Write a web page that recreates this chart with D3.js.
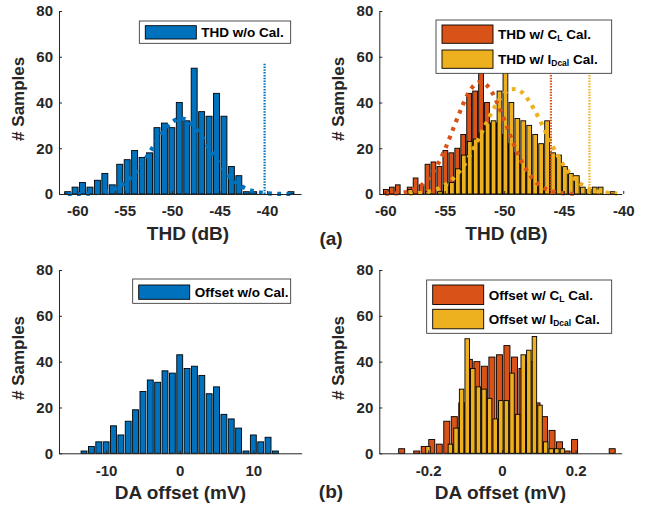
<!DOCTYPE html>
<html>
<head>
<meta charset="utf-8">
<script src="https://cdn.jsdelivr.net/npm/d3@7"></script>
<style>
body { margin: 0; background: #fff; }
svg { display: block; font-family: "Liberation Sans", Arial, sans-serif; font-weight: bold; }
</style>
</head>
<body>
<svg id="chart" width="657" height="508"></svg>
<script>
// ---- values ----
var countTicks = [0, 20, 40, 60, 80];
var thdTicks = [-60, -55, -50, -45, -40];
var offsetRawTicks = [-10, 0, 10];
var offsetCalTicks = [-0.2, 0, 0.2];

// (a) left: THD without calibration
var thdRawStart = -61.02, thdRawWidth = 0.785;
var thdRawCounts = [1, 3, 5, 3, 6, 9, 4, 13, 15, 19, 16, 18, 29, 31, 29, 40, 32, 55, 36, 34, 44, 34, 12, 8, 1, 1, 0, 0, 0, 0, 1];
var thdRawFitX = [-61, -60, -59, -58, -57, -56, -55, -54, -53, -52, -51, -50, -49, -48, -47, -46, -45, -44, -43, -42, -41, -40, -39, -38, -37];
var thdRawFitY = [0, 0, 0.1, 0.4, 1.0, 2.3, 4.8, 8.7, 14.2, 20.7, 27.0, 31.5, 33.0, 30.9, 25.8, 19.3, 13.0, 7.8, 4.2, 2.0, 0.9, 0.3, 0.1, 0, 0];
var thdRawLimit = -40.25, thdRawLimitTop = 57;

// (a) right: THD with C_L and I_Dcal calibration
var thdClStart = -59.95, thdClWidth = 0.5;
var thdClCounts = [2, 3, 4, 0, 3, 7, 4, 13, 14, 12, 19, 18, 20, 26, 44, 45, 60, 40, 31, 31, 26, 22, 18, 14, 10, 7, 4, 2, 1];
var thdIdStart = -57.9, thdIdWidth = 0.5;
var thdIdCounts = [2, 0, 0, 1, 0, 1, 4, 5, 11, 17, 23, 24, 27, 31, 32, 45, 56, 40, 33, 32, 30, 26, 22, 32, 18, 17, 12, 9, 8, 3, 2, 3, 3, 0, 1];
var thdClFitX = [-60, -59.5, -59, -58.5, -58, -57.5, -57, -56.5, -56, -55.5, -55, -54.5, -54, -53.5, -53, -52.5, -52, -51.5, -51, -50.5, -50, -49.5, -49, -48.5, -48, -47.5, -47, -46.5, -46, -45.5, -45, -44.5, -44];
var thdClFitY = [0.1, 0.1, 0.3, 0.6, 1.2, 2.2, 3.7, 6.0, 9.4, 13.8, 19.3, 25.7, 32.4, 38.8, 44.2, 47.7, 49.0, 47.7, 44.2, 38.8, 32.4, 25.7, 19.3, 13.8, 9.4, 6.0, 3.7, 2.2, 1.2, 0.6, 0.3, 0.1, 0.1];
var thdIdFitX = [-58, -57.5, -57, -56.5, -56, -55.5, -55, -54.5, -54, -53.5, -53, -52.5, -52, -51.5, -51, -50.5, -50, -49.5, -49, -48.5, -48, -47.5, -47, -46.5, -46, -45.5, -45, -44.5, -44, -43.5, -43, -42.5, -42, -41.5, -41, -40.5];
var thdIdFitY = [0.15, 0.28, 0.5, 0.9, 1.5, 2.4, 3.8, 5.7, 8.4, 11.7, 15.8, 20.6, 25.8, 31.1, 36.2, 40.6, 43.9, 45.7, 45.9, 44.4, 41.3, 37.1, 32.2, 26.8, 21.6, 16.7, 12.5, 9.0, 6.2, 4.2, 2.7, 1.7, 1.0, 0.6, 0.3, 0.2];
var thdClLimit = -46.08, thdIdLimit = -42.84, thdCalLimitTop = 60;

// (b) left: DA offset without calibration (mV)
var offRawStart = -15, offRawWidth = 1;
var offRawCounts = [0, 0, 1, 3, 5, 5, 12, 8, 14, 19, 27, 32, 31, 36, 35, 43, 37, 38, 34, 26, 29, 17, 15, 11, 1, 8, 5, 7, 1, 0, 0];

// (b) right: DA offset with C_L and I_Dcal calibration (mV)
var offClStart = -0.272, offClWidth = 0.0204;
var offClCounts = [2, 0, 1, 3, 6, 4, 14, 16, 22, 41, 40, 38, 42, 43, 47, 42, 37, 40, 22, 16, 10, 5, 1, 6, 0, 0, 0, 0, 2];
var offIdStart = -0.2006, offIdWidth = 0.0152;
var offIdCounts = [3, 0, 0, 0, 4, 11, 28, 50, 37, 29, 28, 24, 15, 23, 23, 35, 17, 43, 45, 51, 21, 5, 2, 2, 2];

// ---- drawing ----
var INK = '#262626';
var BLUE = '#0072BD', ORANGE = '#D95319', YELLOW = '#EDB120';
var svg = d3.select('#chart');

function makePanel(box, xDomain) {
    var g = svg.append('g').attr('transform', 'translate(' + box.x + ',' + box.y + ')');
    return {
        g: g,
        box: box,
        x: d3.scaleLinear().domain(xDomain).range([0, box.w]),
        y: d3.scaleLinear().domain([0, 80]).range([box.h, 0])
    };
}

function drawBars(p, start, width, counts, fill) {
    var half = 0.4 * width;
    p.g.append('g').selectAll('rect')
        .data(counts)
        .enter().append('rect')
        .attr('x', function(d, i) { return p.x(start + i * width - half); })
        .attr('width', function(d, i) { return p.x(start + i * width + half) - p.x(start + i * width - half); })
        .attr('y', function(d) { return p.y(d); })
        .attr('height', function(d) { return p.y(0) - p.y(d); })
        .attr('fill', fill)
        .attr('stroke', '#000')
        .attr('stroke-width', 0.9);
}

function drawFit(p, xs, ys, color) {
    var line = d3.line()
        .x(function(d) { return p.x(d[0]); })
        .y(function(d) { return p.y(d[1]); })
        .curve(d3.curveMonotoneX);
    p.g.append('path')
        .datum(d3.zip(xs, ys))
        .attr('d', line)
        .attr('fill', 'none')
        .attr('stroke', color)
        .attr('stroke-width', 4.2)
        .attr('stroke-dasharray', '3.8 5.4');
}

function drawLimit(p, xv, top, color) {
    p.g.append('line')
        .attr('x1', p.x(xv)).attr('x2', p.x(xv))
        .attr('y1', p.y(0)).attr('y2', p.y(top))
        .attr('stroke', color)
        .attr('stroke-width', 2.2)
        .attr('stroke-dasharray', '1.5 1.3');
}

function drawAxes(p, xTicks, xLabel, yLabelX) {
    var fmt = function(d) { return String(d); };
    var ax = p.g.append('g')
        .attr('transform', 'translate(0,' + p.box.h + ')')
        .call(d3.axisBottom(p.x).tickValues(xTicks).tickFormat(fmt).tickSize(-3).tickSizeOuter(0).tickPadding(8));
    var ay = p.g.append('g')
        .call(d3.axisLeft(p.y).tickValues(countTicks).tickFormat(fmt).tickSize(-3).tickSizeOuter(0).tickPadding(6));
    [ax, ay].forEach(function(a) {
        a.select('.domain').attr('stroke', INK).attr('stroke-width', 1);
        a.selectAll('.tick line').attr('stroke', INK);
        a.selectAll('.tick text')
            .attr('fill', INK)
            .style('font-family', '"Liberation Sans", Arial, sans-serif')
            .style('font-weight', 'bold')
            .style('font-size', '15px');
    });
    ax.selectAll('.tick text').attr('dy', '0.95em');

    p.g.append('text')
        .attr('x', p.box.w / 2 + (xLabel.dx || 0))
        .attr('y', p.box.h + 46)
        .attr('text-anchor', 'middle')
        .attr('fill', INK)
        .style('font-size', '19px')
        .text(xLabel.text);

    p.g.append('text')
        .attr('transform', 'translate(' + yLabelX + ',' + (p.box.h * 0.48) + ') rotate(-90)')
        .attr('text-anchor', 'middle')
        .attr('fill', INK)
        .style('font-size', '17px')
        .text('# Samples');
}

// entries: [fill, [[text, isSub], ...]]
function drawLegend(lg, entries) {
    var g = svg.append('g');
    g.append('rect')
        .attr('x', lg.x).attr('y', lg.y).attr('width', lg.w).attr('height', lg.h)
        .attr('fill', '#fff')
        .attr('stroke', INK)
        .attr('stroke-width', 0.8);
    entries.forEach(function(e, i) {
        var top = lg.y + lg.padTop + i * lg.step;
        g.append('rect')
            .attr('x', lg.x + 6).attr('y', top)
            .attr('width', 51).attr('height', lg.patchH)
            .attr('fill', e[0])
            .attr('stroke', '#000')
            .attr('stroke-width', 0.9);
        var t = g.append('text')
            .attr('x', lg.x + 62)
            .attr('y', top + lg.patchH / 2 + 4.8)
            .attr('fill', '#000');
        var shifted = false;
        e[1].forEach(function(part) {
            var ts = t.append('tspan').text(part[0]);
            if (part[1]) {
                ts.style('font-size', '8.5px').attr('dy', 2.5);
                shifted = true;
            } else {
                ts.style('font-size', '13.5px');
                if (shifted) { ts.attr('dy', -2.5); shifted = false; }
            }
        });
    });
}

// (a) left
var pA1 = makePanel({x: 59, y: 11, w: 242, h: 183}, [-61.93, -36.41]);
drawBars(pA1, thdRawStart, thdRawWidth, thdRawCounts, BLUE);
drawFit(pA1, thdRawFitX, thdRawFitY, BLUE);
drawLimit(pA1, thdRawLimit, thdRawLimitTop, BLUE);
drawAxes(pA1, thdTicks, {text: 'THD (dB)', dx: 8}, -35);

// (a) right
var pA2 = makePanel({x: 379.3, y: 11, w: 242.4, h: 183}, [-60.5, -40.13]);
drawBars(pA2, thdClStart, thdClWidth, thdClCounts, ORANGE);
drawBars(pA2, thdIdStart, thdIdWidth, thdIdCounts, YELLOW);
drawFit(pA2, thdClFitX, thdClFitY, ORANGE);
drawFit(pA2, thdIdFitX, thdIdFitY, YELLOW);
drawLimit(pA2, thdClLimit, thdCalLimitTop, ORANGE);
drawLimit(pA2, thdIdLimit, thdCalLimitTop, YELLOW);
drawAxes(pA2, thdTicks, {text: 'THD (dB)', dx: 6}, -35);

// (b) left
var pB1 = makePanel({x: 59, y: 270, w: 242.7, h: 183.3}, [-16.4, 16.57]);
drawBars(pB1, offRawStart, offRawWidth, offRawCounts, BLUE);
drawAxes(pB1, offsetRawTicks, {text: 'DA offset (mV)', dx: 0}, -35);

// (b) right
var pB2 = makePanel({x: 379.3, y: 270, w: 242.4, h: 183.3}, [-0.3327, 0.325]);
drawBars(pB2, offClStart, offClWidth, offClCounts, ORANGE);
drawBars(pB2, offIdStart, offIdWidth, offIdCounts, YELLOW);
drawAxes(pB2, offsetCalTicks, {text: 'DA offset (mV)', dx: 0}, -35);

// legends
drawLegend({x: 139.3, y: 21, w: 151.4, h: 22.3, padTop: 4.7, step: 25, patchH: 13.3},
    [[BLUE, [['THD w/o Cal.', false]]]]);
drawLegend({x: 436, y: 20, w: 175.7, h: 53.3, padTop: 5, step: 25, patchH: 18.3},
    [[ORANGE, [['THD w/ C', false], ['L', true], [' Cal.', false]]],
     [YELLOW, [['THD w/ I', false], ['Dcal', true], [' Cal.', false]]]]);
drawLegend({x: 132.7, y: 279, w: 158, h: 24.3, padTop: 6, step: 25, patchH: 14.3},
    [[BLUE, [['Offset w/o Cal.', false]]]]);
drawLegend({x: 426.7, y: 280, w: 185, h: 53.3, padTop: 5, step: 24.3, patchH: 19.5},
    [[ORANGE, [['Offset w/ C', false], ['L', true], [' Cal.', false]]],
     [YELLOW, [['Offset w/ I', false], ['Dcal', true], [' Cal.', false]]]]);

// sub-figure tags
svg.append('text').attr('x', 331).attr('y', 245).attr('text-anchor', 'middle')
    .attr('fill', INK).style('font-size', '19px').text('(a)');
svg.append('text').attr('x', 331).attr('y', 498).attr('text-anchor', 'middle')
    .attr('fill', INK).style('font-size', '19px').text('(b)');
</script>
</body>
</html>
